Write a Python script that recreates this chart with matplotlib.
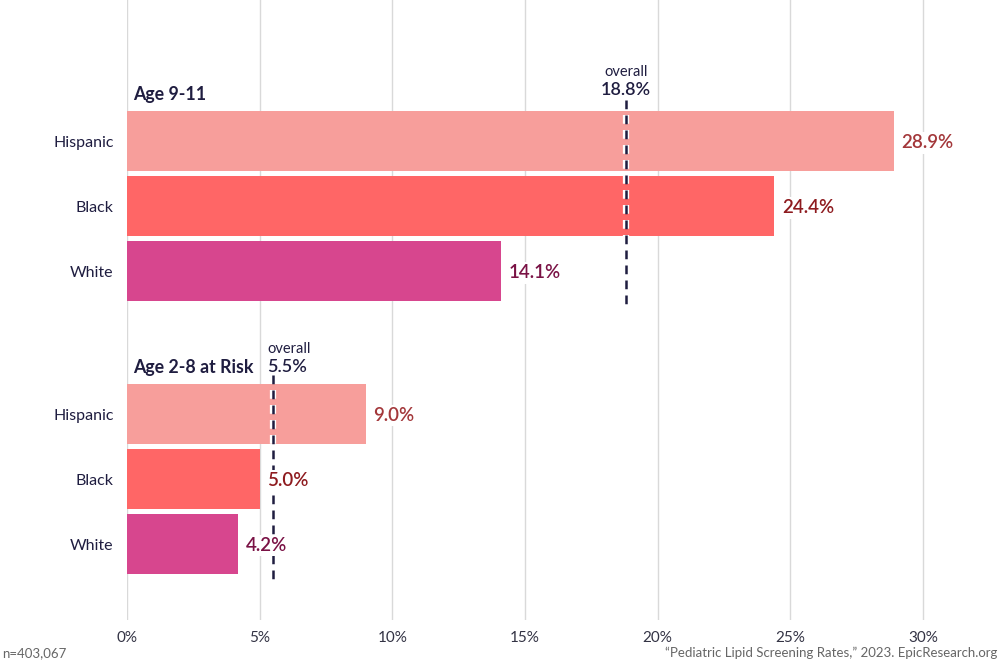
import matplotlib
matplotlib.use("Agg")
from matplotlib import pyplot as plt
import matplotlib.patheffects as pe

plt.rcParams['font.family'] = ['Lato', 'DejaVu Sans']

groups = ["Age 9-11", "Age 2-8 at Risk"]
categories = ["Hispanic", "Black", "White"]
rates_9_11 = [28.9, 24.4, 14.1]
rates_2_8 = [9.0, 5.0, 4.2]
overall = [18.8, 5.5]
sample_note = "n=403,067"
source_note = "\u201cPediatric Lipid Screening Rates,\u201d 2023. EpicResearch.org"

bar_colors = ["#F79E9B", "#FF6666", "#D7468E"]
label_colors = ["#A3373A", "#8E1B1F", "#7A1245"]
navy = "#1F1D40"

fig = plt.figure(figsize=(10, 6.67), dpi=100)
ax = fig.add_axes([0.127, 0.0705, 0.873, 0.9295])

group_start = [0, 4.2]
all_rates = [rates_9_11, rates_2_8]

for g, (start, rates) in enumerate(zip(group_start, all_rates)):
    ys = [start + i for i in range(len(categories))]
    ax.barh(ys, rates, height=0.92, color=bar_colors, zorder=2)
    for y, v, c in zip(ys, rates, label_colors):
        ax.text(v + 0.28, y + 0.03, "%.1f%%" % v, color=c, fontsize=13.5,
                fontweight="semibold", va="center", ha="left", zorder=5,
                bbox=dict(facecolor="white", edgecolor="none", pad=1.5))
    for y, cat in zip(ys, categories):
        ax.text(-0.5, y + 0.03, cat, color=navy, fontsize=11.5, va="center", ha="right")
    ax.text(0.22, start - 0.72, groups[g], color=navy, fontsize=12.8,
            fontweight="bold", va="center", ha="left")

# overall dashed markers
dash_fx = [pe.Stroke(linewidth=4.5, foreground="white"), pe.Normal()]
ax.plot([overall[0], overall[0]], [-0.63, 2.55], color=navy, lw=1.8,
        ls=(0, (3.5, 2.5)), zorder=3, path_effects=dash_fx)
ax.text(overall[0], -1.06, "overall", color=navy, fontsize=10.5, ha="center", va="center")
ax.text(overall[0], -0.78, "%.1f%%" % overall[0], color=navy, fontsize=13,
        fontweight="semibold", ha="center", va="center")

ax.plot([overall[1], overall[1]], [3.6, 6.75], color=navy, lw=1.8,
        ls=(0, (3.5, 2.5)), zorder=3, path_effects=dash_fx)
ax.text(overall[1] - 0.22, 3.2, "overall", color=navy, fontsize=10.5, ha="left", va="center")
ax.text(overall[1] - 0.22, 3.47, "%.1f%%" % overall[1], color=navy, fontsize=13,
        fontweight="semibold", ha="left", va="center")

ax.set_xlim(0, 32.9)
ax.set_ylim(7.37, -2.17)
ax.set_xticks(range(0, 31, 5))
ax.set_xticklabels(["%d%%" % t for t in range(0, 31, 5)], color="#333344", fontsize=11)
ax.set_yticks([])
ax.tick_params(axis="x", length=0, pad=8)
ax.grid(axis="x", color="#D9D9D9", lw=1, zorder=0)
for s in ax.spines.values():
    s.set_visible(False)

fig.text(0.002, 0.012, sample_note, color="#666666", fontsize=9.5, ha="left", va="bottom")
fig.text(0.997, 0.012, source_note, color="#666666", fontsize=9.5, ha="right", va="bottom")

fig.savefig("out.png", dpi=100)
